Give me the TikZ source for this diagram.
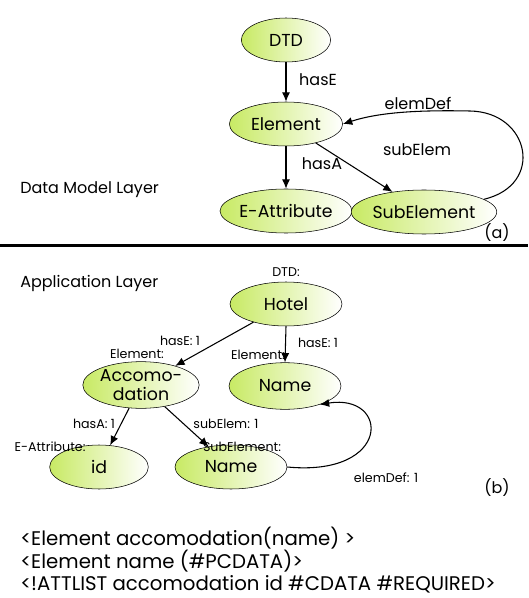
\documentclass[tikz,border=0pt]{standalone}
\usepackage{fontspec}
\setmainfont{Poppins}
\usetikzlibrary{shapes.geometric,arrows.meta}

\begin{document}
\begin{tikzpicture}[x=0.75pt,y=-0.75pt,
    classstyle/.style={ellipse, draw=black, thin, left color={rgb,255:red,200;green,234;blue,100}, right color=white, inner sep=0pt, font=\fontsize{13}{13}\selectfont, minimum width=85pt, minimum height=33pt},
    arrowstyle/.style={-{Latex[length=7pt,width=6pt]}, thick},
    labelstyle/.style={font=\fontsize{12}{12}\selectfont, inner sep=0pt},
    smallstyle/.style={font=\fontsize{9.5}{9.5}\selectfont, inner sep=0pt},
    codestyle/.style={font=\fontsize{14.8}{14.8}\selectfont, inner sep=0pt, anchor=west}
]
    \useasboundingbox (0,0) rectangle (528,598);

    % data model layer
    \node[classstyle, minimum width=67pt] (dtd) at (286,40) {DTD};
    \node[classstyle] (element) at (286,124) {Element};
    \node[classstyle] (eattr) at (286,211) {E-Attribute};
    \node[classstyle] (subelem) at (424,212) {SubElement};

    \draw[arrowstyle] (dtd) -- (element);
    \draw[arrowstyle] (element) -- (eattr);
    \draw[arrowstyle] (element) -- (subelem);
    \draw[arrowstyle] (subelem.12) .. controls (545,185) and (530,112) .. (470,111) .. controls (420,110) and (380,112) .. (element.east);

    \node[labelstyle] (hase) at (318,80) {hasE};
    \node[labelstyle] (hasa) at (322,164) {hasA};
    \node[labelstyle] (subel) at (417,150) {subElem};
    \node[labelstyle] (elemdef) at (418,103) {elemDef};
    \node[labelstyle, anchor=west] (dmlayer) at (20,190) {Data Model Layer};
    \node[labelstyle] (parta) at (497,233) {(a)};

    \draw[line width=2.25pt] (0,245) -- (528,245);

    % application layer
    \node[labelstyle, anchor=west] (applayer) at (20,283) {Application Layer};
    \node[classstyle, minimum width=84pt] (hotel) at (286,304) {Hotel};
    \node[classstyle, minimum width=84pt, minimum height=35pt, align=center, font=\fontsize{13}{14}\selectfont] (accom) at (141,385) {Accomo-\\dation};
    \node[classstyle, minimum width=84pt, minimum height=35pt] (name) at (285,386) {Name};
    \node[classstyle, minimum width=74pt] (id) at (99,467) {id};
    \node[classstyle, minimum width=84pt] (subname) at (231,467) {Name};

    \draw[arrowstyle] (hotel) -- (accom);
    \draw[arrowstyle] (hotel.south) -- (name.north);
    \draw[arrowstyle] (accom) -- (id);
    \draw[arrowstyle] (accom) -- (subname);
    \draw[arrowstyle] (subname.east) .. controls (392,477) and (390,393) .. (name.-28);

    \node[smallstyle] (dtdtype) at (286,272) {DTD:};
    \node[smallstyle] (hase1) at (180,341) {hasE: 1};
    \node[smallstyle] (hase2) at (318,343) {hasE: 1};
    \node[smallstyle] (eltype1) at (137,354) {Element:};
    \node[smallstyle] (eltype2) at (258,355) {Element:};
    \node[smallstyle] (hasa1) at (94,424) {hasA: 1};
    \node[smallstyle] (subel1) at (226,424) {subElem: 1};
    \node[smallstyle] (attrtype) at (50,447) {E-Attribute:};
    \node[smallstyle] (subtype) at (242,447) {SubElement:};
    \node[smallstyle] (elemdef1) at (386,478) {elemDef: 1};
    \node[labelstyle] (partb) at (497,488) {(b)};

    % dtd text
    \node[codestyle] (line1) at (20,538) {<Element accomodation(name) >};
    \node[codestyle] (line2) at (20,561) {<Element name (\#PCDATA)>};
    \node[codestyle] (line3) at (20,584) {<!ATTLIST accomodation id \#CDATA \#REQUIRED>};
\end{tikzpicture}
\end{document}
